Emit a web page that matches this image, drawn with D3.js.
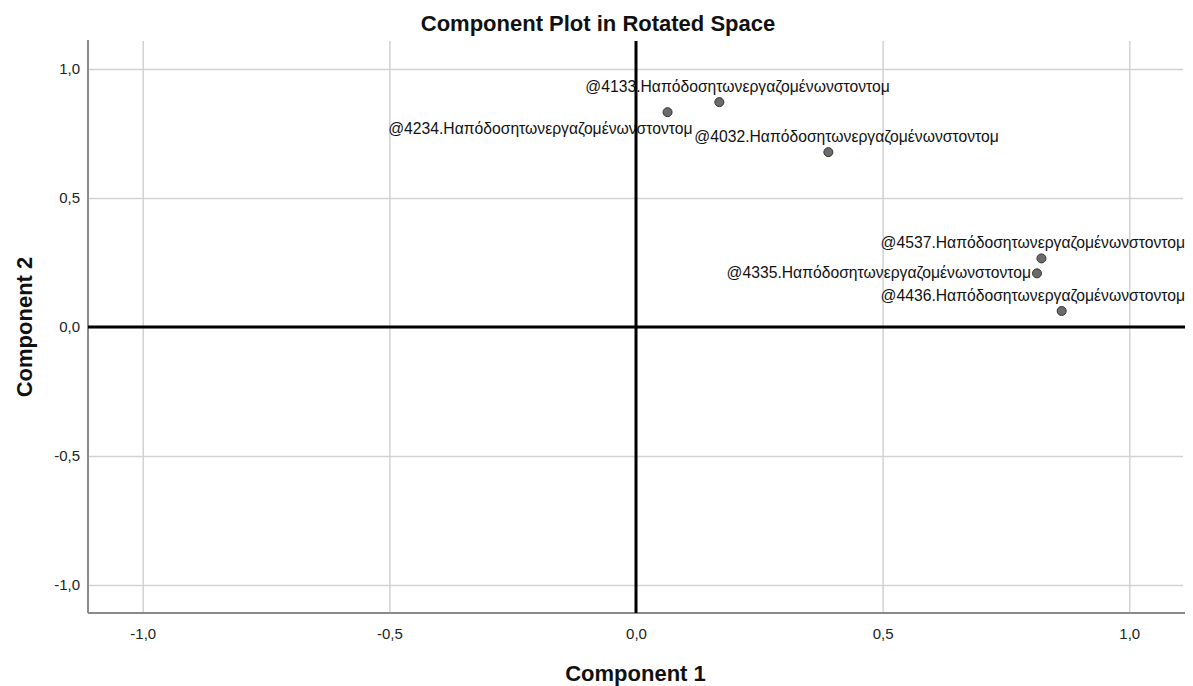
<!DOCTYPE html>
<html>
<head>
<meta charset="utf-8">
<script src="https://cdn.jsdelivr.net/npm/d3@7"></script>
<style>
  body { margin: 0; background: #fff; }
  text { font-family: Arial, "Liberation Sans", sans-serif; }
</style>
</head>
<body>
<svg id="chart"></svg>
<script>
// component loadings
let varNames = ['@4133.Ηαπόδοσητωνεργαζομένωνστοντομ',
                '@4234.Ηαπόδοσητωνεργαζομένωνστοντομ',
                '@4032.Ηαπόδοσητωνεργαζομένωνστοντομ',
                '@4537.Ηαπόδοσητωνεργαζομένωνστοντομ',
                '@4335.Ηαπόδοσητωνεργαζομένωνστοντομ',
                '@4436.Ηαπόδοσητωνεργαζομένωνστοντομ']
let comp1 = [0.169, 0.064, 0.390, 0.822, 0.813, 0.863]
let comp2 = [0.872, 0.833, 0.678, 0.266, 0.208, 0.062]
// where the label sits relative to its point
let labelPlace = ['above', 'below', 'above', 'above', 'left', 'above']
let ticks = [-1.0, -0.5, 0.0, 0.5, 1.0]

let width = 1193
let height = 686
let padL = 88, padR = 1183, padT = 41, padB = 613

let svg = d3.select('#chart').attr('width', width).attr('height', height)

let xScale = d3.scaleLinear().domain([-1.111, 1.109]).range([padL, padR])
let yScale = d3.scaleLinear().domain([-1.109, 1.109]).range([padB, padT])

let fmt = d => d3.format('.1f')(d).replace('.', ',').replace('−', '-')

// grid
let xGrid = d3.axisBottom(xScale).tickValues(ticks).tickSize(-(padB - padT)).tickFormat('')
let yGrid = d3.axisLeft(yScale).tickValues(ticks).tickSize(-(padR - padL)).tickFormat('')

svg.append('g').attr('class', 'grid')
   .attr('transform', 'translate(0,' + padB + ')')
   .call(xGrid)
svg.append('g').attr('class', 'grid')
   .attr('transform', 'translate(' + padL + ',0)')
   .call(yGrid)
svg.selectAll('.grid .domain').remove()
svg.selectAll('.grid line').attr('stroke', '#d2d2d2').attr('stroke-width', 1.5)

// tick labels
let xAxis = d3.axisBottom(xScale).tickValues(ticks).tickSize(0).tickPadding(15).tickFormat(fmt)
let yAxis = d3.axisLeft(yScale).tickValues(ticks).tickSize(0).tickPadding(8).tickFormat(fmt)

let gx = svg.append('g').attr('transform', 'translate(0,' + padB + ')').call(xAxis)
let gy = svg.append('g').attr('transform', 'translate(' + padL + ',0)').call(yAxis)
gx.select('.domain').remove()
gy.select('.domain').remove()
svg.selectAll('.tick text').attr('font-size', 15).attr('fill', '#222')
   .style('font-family', 'Arial, "Liberation Sans", sans-serif')

// frame (left + bottom only)
svg.append('line').attr('x1', padL).attr('x2', padL).attr('y1', padT - 1).attr('y2', padB)
   .attr('stroke', '#8a8a8a').attr('stroke-width', 2)
svg.append('line').attr('x1', padL).attr('x2', padR + 2).attr('y1', padB).attr('y2', padB)
   .attr('stroke', '#8a8a8a').attr('stroke-width', 2)

// points
let pts = varNames.map((n, i) => ({name: n, x: comp1[i], y: comp2[i], place: labelPlace[i]}))

let labels = svg.append('g')
labels.selectAll('text')
  .data(pts)
  .enter()
  .append('text')
  .attr('font-size', 15.7)
  .attr('fill', '#111')
  .text(d => d.name)
  .each(function (d) {
    let t = d3.select(this)
    let w = this.getComputedTextLength()
    let px = xScale(d.x), py = yScale(d.y)
    if (d.place === 'above') {
      let x0 = Math.min(px - 134, padR + 2 - w)
      t.attr('x', x0).attr('y', py - 10)
    } else if (d.place === 'below') {
      t.attr('x', px + 25 - w).attr('y', py + 22)
    } else {
      t.attr('x', px - 6 - w).attr('y', py + 5)
    }
  })

svg.append('g').selectAll('circle')
  .data(pts)
  .enter()
  .append('circle')
  .attr('cx', d => xScale(d.x))
  .attr('cy', d => yScale(d.y))
  .attr('r', 4.5)
  .attr('fill', '#6b6b6b')
  .attr('stroke', '#333')
  .attr('stroke-width', 1)

// zero reference lines, on top
svg.append('line').attr('x1', xScale(0)).attr('x2', xScale(0)).attr('y1', padT).attr('y2', padB)
   .attr('stroke', '#000').attr('stroke-width', 3)
svg.append('line').attr('x1', padL).attr('x2', padR + 2).attr('y1', yScale(0)).attr('y2', yScale(0))
   .attr('stroke', '#000').attr('stroke-width', 3)

// titles
svg.append('text').attr('x', 598).attr('y', 31).attr('text-anchor', 'middle')
   .attr('font-size', 22).attr('font-weight', 'bold').attr('fill', '#111')
   .text('Component Plot in Rotated Space')
svg.append('text').attr('x', (padL + padR) / 2).attr('y', 681).attr('text-anchor', 'middle')
   .attr('font-size', 22).attr('font-weight', 'bold').attr('fill', '#111')
   .text('Component 1')
svg.append('text').attr('transform', 'translate(32,' + yScale(0) + ') rotate(-90)')
   .attr('text-anchor', 'middle')
   .attr('font-size', 22).attr('font-weight', 'bold').attr('fill', '#111')
   .text('Component 2')
</script>
</body>
</html>
